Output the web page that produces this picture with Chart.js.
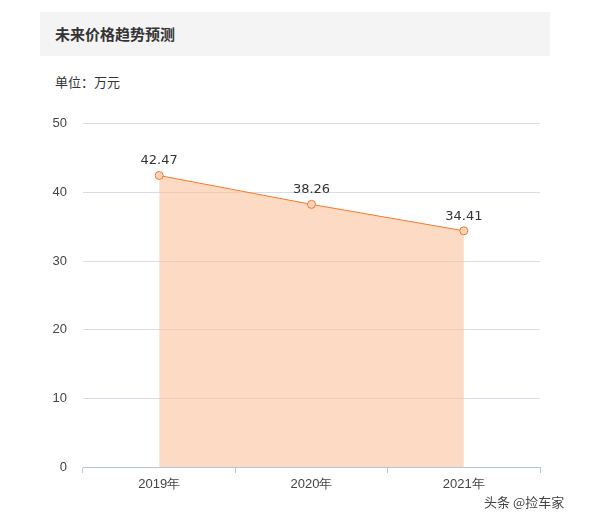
<!DOCTYPE html>
<html><head><meta charset="utf-8">
<script src="https://cdn.jsdelivr.net/npm/chart.js@4"></script>
<style>
body{margin:0;background:#fff;font-family:"Noto Sans CJK SC","Noto Sans",sans-serif;}
#hd{position:absolute;left:40px;top:12px;width:510px;height:44px;background:#f4f4f4;}
#hd span{position:absolute;left:15px;top:11px;font-size:15px;font-weight:bold;color:#333;}
#unit{position:absolute;left:55px;top:72px;font-size:13px;color:#333;}
#wrap{position:absolute;left:40px;top:100px;width:510px;height:400px;}
#wm{position:absolute;left:484px;top:492px;font-size:13px;color:#444;}
</style></head><body>
<div id="hd"><span>未来价格趋势预测</span></div>
<div id="unit">单位：万元</div>
<div id="wrap"><canvas id="c"></canvas></div>
<div id="wm">头条 @捡车家</div>
<script>
// 数据
const years = ["2019年", "2020年", "2021年"];
const prices = [42.47, 38.26, 34.41];
const yTicks = [0, 10, 20, 30, 40, 50];

const labelPlugin = {
    id: "valLabels",
    afterDatasetsDraw(chart) {
        const ctx = chart.ctx;
        const meta = chart.getDatasetMeta(0);
        ctx.save();
        ctx.font = "13px 'DejaVu Sans', sans-serif";
        ctx.fillStyle = "#333";
        ctx.textAlign = "center";
        ctx.textBaseline = "bottom";
        meta.data.forEach((pt, i) => {
            ctx.fillText(prices[i].toFixed(2), pt.x, pt.y - 8);
        });
        ctx.restore();
    },
};

new Chart(document.getElementById("c"), {
    type: "line",
    data: {
        labels: years,
        datasets: [{
            data: prices,
            borderColor: "#f5772a",
            borderWidth: 1,
            backgroundColor: "rgba(252,196,160,0.62)",
            fill: "origin",
            tension: 0,
            pointRadius: 4,
            pointBackgroundColor: "#fdd6bd",
            pointBorderColor: "#f5772a",
            pointBorderWidth: 1,
        }],
    },
    options: {
        responsive: true,
        maintainAspectRatio: false,
        animation: false,
        layout: { padding: { top: 19, right: 10 } },
        plugins: { legend: { display: false }, tooltip: { enabled: false } },
        scales: {
            x: {
                offset: true,
                afterFit: (s) => { s.height = 33; },
                grid: { drawOnChartArea: false, color: "#b7c6d9", tickLength: 6, offset: true },
                border: { color: "#b7c6d9" },
                ticks: { color: "#444", font: { size: 13 }, padding: 4 },
            },
            y: {
                min: 0, max: 50,
                afterFit: (s) => { s.width = 43; },
                afterBuildTicks: (s) => { s.ticks = yTicks.map((v) => ({ value: v })); },
                grid: { color: "#d6dde6", drawTicks: false },
                border: { display: false },
                ticks: { color: "#444", font: { size: 13 }, padding: 16 },
            },
        },
    },
    plugins: [labelPlugin],
});
</script>
</body></html>
